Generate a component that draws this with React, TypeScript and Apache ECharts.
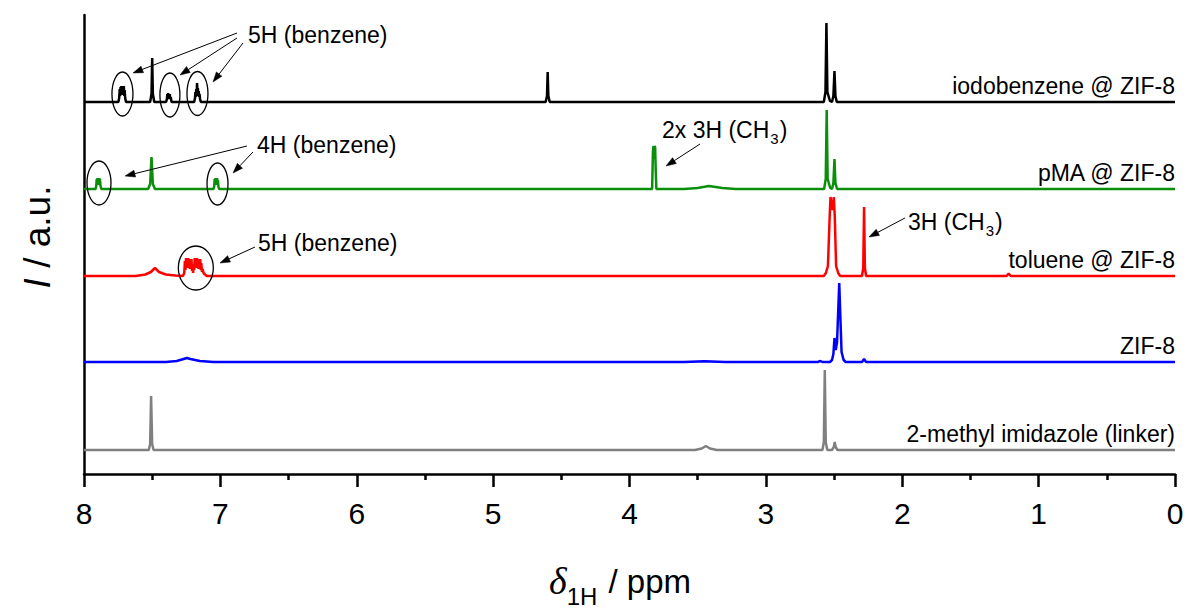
import React, { useEffect, useRef } from 'react';
import * as echarts from 'echarts';

// ---- data (chemical shift in ppm, intensity in a.u.) ----
const seriesNames = ['iodobenzene @ ZIF-8', 'pMA @ ZIF-8', 'toluene @ ZIF-8', 'ZIF-8', '2-methyl imidazole (linker)'];
const seriesOffsets = [372, 285, 198, 112, 24];
const xTickValues = [8, 7, 6, 5, 4, 3, 2, 1, 0];

const iodobenzene: number[][] = [
  [8, 0],
  [7.748, 0], [7.742, 4], [7.738, 13], [7.735, 6], [7.732, 15], [7.729, 7], [7.726, 16], [7.723, 8], [7.72, 16], [7.717, 8],
  [7.714, 15], [7.711, 7], [7.708, 16], [7.705, 6], [7.702, 12], [7.698, 4], [7.692, 0],
  [7.515, 0], [7.505, 8], [7.5, 44], [7.495, 8], [7.485, 0],
  [7.398, 0], [7.392, 3], [7.389, 8], [7.386, 3], [7.383, 9], [7.38, 4], [7.377, 7], [7.374, 3], [7.371, 8], [7.368, 3], [7.364, 5], [7.358, 0],
  [7.192, 0], [7.186, 4], [7.183, 10], [7.18, 5], [7.177, 13], [7.174, 8], [7.171, 19], [7.168, 9], [7.165, 14], [7.162, 6],
  [7.159, 11], [7.156, 5], [7.153, 8], [7.149, 3], [7.143, 0],
  [4.615, 0], [4.605, 6], [4.6, 30], [4.595, 6], [4.585, 0],
  [2.575, 0], [2.563, 10], [2.556, 79], [2.549, 10], [2.53, 1],
  [2.515, 0], [2.505, 6], [2.497, 31], [2.49, 6], [2.48, 0],
  [0, 0],
];

const pMA: number[][] = [
  [8, 0],
  [7.915, 0], [7.91, 3], [7.907, 10], [7.904, 4], [7.901, 11], [7.898, 5], [7.895, 10], [7.892, 4], [7.889, 11], [7.886, 5], [7.883, 10], [7.879, 3], [7.873, 0],
  [7.53, 0], [7.515, 5], [7.505, 32], [7.495, 5], [7.48, 0],
  [7.05, 0], [7.045, 3], [7.042, 10], [7.039, 4], [7.036, 11], [7.033, 5], [7.03, 10], [7.027, 4], [7.024, 11], [7.021, 4], [7.018, 9], [7.014, 2], [7.008, 0],
  [3.834, 0], [3.828, 38], [3.824, 43], [3.82, 30], [3.816, 43], [3.812, 42], [3.808, 20], [3.803, 0],
  [3.6, 0], [3.5, 1], [3.45, 2.2], [3.42, 3], [3.38, 2.2], [3.32, 1], [3.22, 0],
  [2.573, 0], [2.561, 10], [2.554, 79], [2.547, 10], [2.528, 1],
  [2.515, 0], [2.505, 6], [2.497, 30], [2.49, 6], [2.478, 0],
  [0, 0],
];

const toluene: number[][] = [
  [8, 0],
  [7.62, 0], [7.55, 1.5], [7.51, 4], [7.48, 8], [7.45, 4], [7.4, 1.5], [7.33, 0.5],
  [7.275, 0], [7.265, 3], [7.26, 15], [7.256, 6], [7.252, 18], [7.248, 8], [7.244, 17], [7.24, 9], [7.236, 18], [7.232, 8],
  [7.228, 17], [7.224, 7], [7.22, 16], [7.216, 7], [7.212, 17], [7.208, 5], [7.204, 10], [7.2, 3], [7.196, 12], [7.192, 6],
  [7.188, 18], [7.184, 8], [7.18, 17], [7.176, 9], [7.172, 18], [7.168, 8], [7.164, 17], [7.16, 7], [7.156, 16], [7.152, 7],
  [7.148, 17], [7.144, 6], [7.14, 13], [7.135, 4], [7.13, 7], [7.124, 3], [7.116, 2], [7.1, 0],
  [2.575, 0], [2.56, 3], [2.545, 10], [2.532, 60], [2.526, 79], [2.518, 70], [2.51, 66], [2.502, 79], [2.495, 60], [2.485, 10], [2.47, 3], [2.455, 0],
  [2.295, 0], [2.286, 8], [2.28, 69], [2.274, 8], [2.265, 0],
  [1.235, 0], [1.22, 2.5], [1.205, 0],
  [0, 0],
];

const zif8: number[][] = [
  [8, 0],
  [7.4, 0], [7.32, 1], [7.27, 3], [7.245, 4], [7.22, 3], [7.15, 1], [7.05, 0],
  [3.6, 0], [3.45, 0.8], [3.3, 0],
  [2.62, 0], [2.6, 1], [2.585, 0],
  [2.53, 0], [2.515, 2], [2.505, 8], [2.497, 24], [2.488, 12], [2.478, 20], [2.47, 50], [2.462, 79], [2.455, 50], [2.445, 10], [2.43, 2], [2.415, 0],
  [2.295, 0], [2.28, 3], [2.265, 0],
  [0, 0],
];

const linker: number[][] = [
  [8, 0],
  [7.525, 0], [7.515, 6], [7.508, 54], [7.5, 6], [7.49, 0],
  [3.52, 0], [3.47, 1.5], [3.44, 4], [3.41, 1.5], [3.36, 0],
  [2.585, 0], [2.575, 8], [2.568, 80], [2.561, 8], [2.55, 0],
  [2.515, 0], [2.502, 3], [2.495, 8], [2.488, 3], [2.475, 0],
  [0, 0],
];

// annotation anchors in data coordinates (ppm, a.u.)
const annotationLabels = [
  '{a|5H (benzene)}',
  '{a|4H (benzene)}',
  '{a|2x 3H (CH}{s|3}{a|)}',
  '{a|5H (benzene)}',
  '{a|3H (CH}{s|3}{a|)}',
];
const annotationAnchors = [[6.797, 439], [6.731, 329], [3.762, 344], [6.724, 231], [1.958, 252]];
const arrowSegments = [
  [6.878, 441, 7.641, 401],
  [6.878, 436, 7.296, 399],
  [6.834, 431, 7.054, 392],
  [6.805, 328, 7.699, 298],
  [6.761, 322, 6.907, 301],
  [3.483, 330, 3.732, 308],
  [6.746, 227, 7.003, 211],
  [1.98, 256, 2.244, 237],
];
const circledRegions = [
  [7.718, 380], [7.37, 379], [7.168, 380.5],
  [7.89, 291], [7.021, 290],
  [7.18, 206],
];

// ---- styles ----
const seriesColors = ['#000000', '#0a8f0a', '#ff0000', '#0000ff', '#808080'];
const circleRadii = [[10.5, 22], [10, 22], [10.5, 22], [12, 22], [10.5, 21], [17.5, 22]];
const FONT = '"Liberation Sans", Arial, sans-serif';

export default function App() {
  const ref = useRef<HTMLDivElement>(null);

  useEffect(() => {
    const chart = echarts.init(ref.current!, null, { renderer: 'svg' });
    const spectra = [iodobenzene, pMA, toluene, zif8, linker];
    const series = spectra.map((pts, i) => ({
      type: 'line',
      name: seriesNames[i],
      data: pts.map(([x, y]) => [x, y + seriesOffsets[i]]),
      showSymbol: false,
      symbol: 'none',
      silent: true,
      z: 2 + i,
      lineStyle: { color: seriesColors[i], width: 2.5 },
      itemStyle: { color: seriesColors[i] },
    }));

    chart.setOption({
      animation: false,
      backgroundColor: '#ffffff',
      grid: { left: 84, right: 14, top: 15, bottom: 137 },
      xAxis: {
        type: 'value',
        min: 0,
        max: 8,
        interval: 1,
        inverse: true,
        axisLine: { show: true, onZero: false, lineStyle: { color: '#000', width: 2.5 } },
        axisTick: { show: true, inside: false, length: 13, lineStyle: { color: '#000', width: 2.5 } },
        minorTick: { show: true, splitNumber: 2, length: 6, lineStyle: { color: '#000', width: 2.5 } },
        splitLine: { show: false },
        axisLabel: {
          show: true,
          margin: 24,
          fontSize: 30,
          fontFamily: FONT,
          color: '#000',
          showMinLabel: true,
          showMaxLabel: true,
          formatter: (v: number) => (xTickValues.includes(v) ? String(v) : ''),
        },
      },
      yAxis: {
        type: 'value',
        min: 0,
        max: 459,
        axisLine: { show: true, onZero: false, lineStyle: { color: '#000', width: 2.5 } },
        axisTick: { show: false },
        axisLabel: { show: false },
        splitLine: { show: false },
      },
      series,
    });

    const px = (x: number, y: number) => chart.convertToPixel({ gridIndex: 0 }, [x, y]) as number[];
    const graphic: any[] = [];

    circledRegions.forEach(([x, y], i) => {
      const [cx, cy] = px(x, y);
      graphic.push({
        type: 'ellipse', z: 100, silent: true,
        shape: { cx, cy, rx: circleRadii[i][0], ry: circleRadii[i][1] },
        style: { fill: 'none', stroke: '#000', lineWidth: 1.3 },
      });
    });

    arrowSegments.forEach(([x1, y1, x2, y2]) => {
      const [ax, ay] = px(x1, y1);
      const [bx, by] = px(x2, y2);
      const dx = bx - ax, dy = by - ay;
      const len = Math.hypot(dx, dy);
      const ux = dx / len, uy = dy / len;
      const headL = 10, headW = 3.5;
      const baseX = bx - ux * headL, baseY = by - uy * headL;
      graphic.push({
        type: 'line', z: 100, silent: true,
        shape: { x1: ax, y1: ay, x2: baseX, y2: baseY },
        style: { stroke: '#000', lineWidth: 1 },
      });
      graphic.push({
        type: 'polygon', z: 100, silent: true,
        shape: { points: [[bx, by], [baseX - uy * headW, baseY + ux * headW], [baseX + uy * headW, baseY - ux * headW]] },
        style: { fill: '#000', stroke: '#000', lineWidth: 0.5 },
      });
    });

    annotationLabels.forEach((t, i) => {
      const [x, y] = px(annotationAnchors[i][0], annotationAnchors[i][1]);
      graphic.push({
        type: 'text', z: 100, silent: true, x, y,
        style: {
          text: t,
          align: 'left', verticalAlign: 'middle',
          rich: {
            a: { fontSize: 23, fontFamily: FONT, fill: '#000', lineHeight: 26 },
            s: { fontSize: 15, fontFamily: FONT, fill: '#000', lineHeight: 15, padding: [16, 1, 0, 1] },
          },
        },
      });
    });

    seriesNames.forEach((name, i) => {
      const [x, y] = px(0, seriesOffsets[i] + 16);
      graphic.push({
        type: 'text', z: 100, silent: true, x, y,
        style: { text: name, fontSize: 23, fontFamily: FONT, fill: '#000', align: 'right', verticalAlign: 'middle' },
      });
    });

    graphic.push({
      type: 'text', z: 100, silent: true, x: 37, y: 237, rotation: Math.PI / 2,
      style: {
        text: '{i|I}{n| / a.u.}', align: 'center', verticalAlign: 'middle',
        rich: {
          i: { fontSize: 37, fontStyle: 'italic', fontFamily: FONT, fill: '#000' },
          n: { fontSize: 37, fontFamily: FONT, fill: '#000' },
        },
      },
    });

    graphic.push({
      type: 'text', z: 100, silent: true, x: 620, y: 581,
      style: {
        text: '{d|δ}{s|1H}{n| / ppm}', align: 'center', verticalAlign: 'middle',
        rich: {
          d: { fontSize: 38, fontStyle: 'italic', fontFamily: '"Liberation Serif", "Times New Roman", serif', fill: '#000', lineHeight: 36 },
          s: { fontSize: 24, fontFamily: FONT, fill: '#000', lineHeight: 24, padding: [30, 2, 0, 0] },
          n: { fontSize: 33, fontFamily: FONT, fill: '#000', lineHeight: 36 },
        },
      },
    });

    chart.setOption({ graphic });
    return () => chart.dispose();
  }, []);

  return (
    <div
      ref={ref}
      style={{ position: 'fixed', left: 0, top: 0, width: 1189, height: 611, background: '#fff' }}
    />
  );
}
